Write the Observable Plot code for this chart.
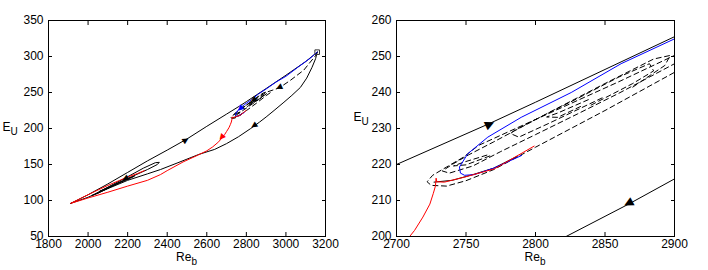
<!DOCTYPE html>
<html><head><meta charset="utf-8">
<script src="https://cdn.jsdelivr.net/npm/d3@7"></script>
<script src="https://cdn.jsdelivr.net/npm/@observablehq/plot@0.6"></script>
<style>
body{margin:0;background:#fff}
#wrap{display:flex;width:708px;height:270px}
</style>
</head><body><div id="wrap"></div>
<script>
// ---- solid black curves ----
const upperX = [1912, 1960, 2000, 2100, 2200, 2300, 2400, 2500, 2600, 2700, 2767, 2800, 2900, 3000, 3100, 3158];
const upperY = [96, 102.5, 108, 123, 139, 155, 170, 185.5, 203, 220, 231.4, 237.3, 255.5, 274, 293, 306];
const lowerX = [3158, 3150, 3132, 3105, 3073, 3030, 2990, 2940, 2900, 2867, 2822, 2760, 2700, 2640, 2560, 2450, 2366, 2300, 2200, 2100, 2000, 1912];
const lowerY = [306, 297, 285, 270, 257, 246, 236.5, 225, 216, 209, 200, 188.5, 179, 171, 164, 152, 143, 137, 128, 116.5, 104.5, 96];
const loopAX = [2020, 2100, 2200, 2280, 2340, 2360, 2350, 2300, 2220, 2130, 2050, 2020];
const loopAY = [107, 118.5, 133, 145, 152.5, 153, 150, 143, 133, 121, 110, 107];
const loopBX = [2060, 2130, 2200, 2235, 2215, 2150, 2080, 2060];
const loopBY = [113, 122, 130.5, 134, 131, 123.5, 114.5, 113];
const segX = [2727, 2740, 2755, 2770, 2787];
const segY = [215.1, 215.6, 217.2, 219, 222.3];
// ---- dashed black curves ----
const dashAX = [3158, 3149, 3090, 3023, 2967, 2930, 2900, 2860, 2820, 2780, 2759, 2748, 2736, 2726, 2722, 2725, 2736, 2750, 2770, 2800, 2850, 2900, 2930];
const dashAY = [306, 301, 281, 267, 256.5, 253, 250.3, 243, 236, 229, 225.3, 222, 219.3, 217, 215.2, 214.2, 214, 215.5, 218.6, 224.8, 235, 245.6, 251.5];
const dashBX = [2870, 2893, 2897, 2885, 2850, 2810, 2770, 2752, 2740, 2733, 2738, 2755, 2775, 2800, 2830, 2860, 2883, 2902];
const dashBY = [241.5, 247.5, 250.3, 249.3, 242.5, 234.5, 226.3, 222.7, 220, 218.2, 217.6, 219.6, 223.6, 228.3, 234, 239.8, 244.5, 248.4];
const dashCX = [2840, 2870, 2885, 2882, 2860, 2830, 2800, 2785, 2782, 2788, 2810, 2849];
const dashCY = [236.5, 242.5, 246, 248, 244.3, 238.3, 232.5, 229.5, 228.6, 227.6, 231.5, 238.7];
const dashDX = [2765, 2748, 2741, 2750, 2768];
const dashDY = [222.6, 220.6, 219.6, 219.9, 222.5];
const dashEX = [2838, 2816, 2808, 2816, 2834];
const dashEY = [238, 234.3, 233.2, 233.1, 236.4];
// ---- blue ----
const blueX = [3158, 3120, 3060, 3000, 2950, 2900, 2861.6, 2825.7, 2789.7, 2765.7, 2751.3, 2745.3, 2746, 2749, 2756, 2770, 2790];
const blueY = [306, 297, 285, 272.5, 264.5, 254.9, 248, 240, 233.1, 227.6, 223, 219.3, 217.6, 217, 217.2, 219, 222.5];
// ---- red ----
const redX = [2799, 2785, 2770.5, 2749, 2734.5, 2729, 2728.5, 2728, 2726.5, 2724, 2719, 2713, 2708, 2700, 2690, 2677, 2660, 2630, 2600, 2555, 2480, 2400, 2366, 2300, 2200, 2100, 2000, 1912, 1970, 2030, 2100, 2160, 2210, 2250, 2285];
const redY = [225.1, 222, 218.8, 216.5, 215.1, 215.2, 216.2, 214, 212, 209, 205.4, 201.7, 199.3, 195.8, 191.5, 187, 181.5, 174.5, 169, 163, 153.5, 141.5, 136, 128, 120, 111.5, 103.5, 96, 104, 112, 121, 128, 133.5, 137.5, 141.5];
// ---- start marker ----
const startX = [3158], startY = [306];
// ---- arrows: position and a point further along the curve ----
const leftArrowX = [2492, 2840, 2967, 2837, 2770, 2677, 2189];
const leftArrowY = [184.5, 203.5, 256.5, 239, 227, 187, 130];
const leftArrowToX = [2600, 2760, 2900, 2800, 2750, 2660, 2100];
const leftArrowToY = [203, 188.5, 248, 232, 222, 181.5, 117];
const leftArrowColor = ["black", "black", "black", "black", "blue", "red", "black"];
const rightArrowX = [2767, 2867];
const rightArrowY = [231.4, 209];
const rightArrowToX = [2800, 2822];
const rightArrowToY = [237.3, 200];
const rightArrowColor = ["black", "black"];
// ---- axes ----
const leftXTicks = [1800, 2000, 2200, 2400, 2600, 2800, 3000, 3200];
const leftYTicks = [50, 100, 150, 200, 250, 300, 350];
const rightXTicks = [2700, 2750, 2800, 2850, 2900];
const rightYTicks = [200, 210, 220, 230, 240, 250, 260];

function pts(xs, ys, curve) { return xs.map((x, i) => ({x, y: ys[i], curve})); }
const solidBlack = [
  ...pts(upperX, upperY, "upper"), ...pts(lowerX, lowerY, "lower"),
  ...pts(loopAX, loopAY, "loopA"), ...pts(loopBX, loopBY, "loopB"), ...pts(segX, segY, "seg")];
const dashedBlack = [
  ...pts(dashAX, dashAY, "A"), ...pts(dashBX, dashBY, "B"), ...pts(dashCX, dashCY, "C"),
  ...pts(dashDX, dashDY, "D"), ...pts(dashEX, dashEY, "E")];
const blue = pts(blueX, blueY, "blue");
const red = pts(redX, redY, "red");
const start = pts(startX, startY, "start");

const W = 354, H = 270, MT = 20, MB = 34;
const FONT = "'Liberation Sans', Arial, Helvetica, sans-serif";

function panel({xDomain, yDomain, xTicks, yTicks, ml, mr, ax, ay, atx, aty, acol, arrowSize}) {
  const kx = (W - ml - mr) / (xDomain[1] - xDomain[0]);
  const ky = (H - MT - MB) / (yDomain[1] - yDomain[0]);
  const arrows = ax.map((x, i) => ({
    x, y: ay[i], c: acol[i],
    a: Math.atan2(-(aty[i] - ay[i]) * ky, (atx[i] - x) * kx) * 180 / Math.PI
  }));
  const plot = Plot.plot({
    width: W, height: H, marginLeft: ml, marginRight: mr, marginTop: MT, marginBottom: MB,
    style: {fontFamily: FONT, fontSize: "12px", color: "black", background: "white"},
    x: {domain: xDomain, label: null},
    y: {domain: yDomain, label: null},
    marks: [
      Plot.line(solidBlack, {x: "x", y: "y", z: "curve", stroke: "black", strokeWidth: 1, clip: true}),
      Plot.line(dashedBlack, {x: "x", y: "y", z: "curve", stroke: "black", strokeWidth: 1, strokeDasharray: "5,3.5", clip: true}),
      Plot.line(blue, {x: "x", y: "y", stroke: "#0000ff", strokeWidth: 1, clip: true}),
      Plot.line(red, {x: "x", y: "y", stroke: "#ff0000", strokeWidth: 1, clip: true}),
      Plot.dot(start, {x: "x", y: "y", symbol: "square", r: 2.6, stroke: "#333", strokeWidth: 1, fill: "none", clip: true}),
      Plot.text(arrows, {x: "x", y: "y", text: () => "\u25B6", rotate: "a", fill: "c", fontSize: arrowSize, textAnchor: "middle", lineAnchor: "middle", fontFamily: "DejaVu Sans", clip: true}),
      Plot.axisX(xTicks, {anchor: "bottom", tickSize: -4, tickPadding: 7, tickFormat: d => String(d)}),
      Plot.axisX(xTicks, {anchor: "top", tickSize: -4, tickFormat: () => ""}),
      Plot.axisY(yTicks, {anchor: "left", tickSize: -4, tickPadding: 9, tickFormat: d => String(d)}),
      Plot.axisY(yTicks, {anchor: "right", tickSize: -4, tickFormat: () => ""}),
      Plot.frame({stroke: "black", strokeWidth: 1})
    ]
  });
  const svg = d3.select(plot);
  const cx = ml + (W - ml - mr) / 2;
  const xl = svg.append("text").attr("x", cx).attr("y", 261).attr("text-anchor", "middle")
    .style("font-family", FONT).style("font-size", "12px").attr("fill", "black");
  xl.append("tspan").text("Re");
  xl.append("tspan").attr("dy", 4).style("font-size", "10px").text("b");
  return plot;
}

const wrap = document.getElementById("wrap");
wrap.appendChild(panel({
  xDomain: [1800, 3200], yDomain: [50, 350], xTicks: leftXTicks, yTicks: leftYTicks,
  ml: 48, mr: 29, ax: leftArrowX, ay: leftArrowY, atx: leftArrowToX, aty: leftArrowToY, acol: leftArrowColor, arrowSize: 8
}));
wrap.appendChild(panel({
  xDomain: [2700, 2900], yDomain: [200, 260], xTicks: rightXTicks, yTicks: rightYTicks,
  ml: 42, mr: 34, ax: rightArrowX, ay: rightArrowY, atx: rightArrowToX, aty: rightArrowToY, acol: rightArrowColor, arrowSize: 12
}));

// y labels E_U
const svgs = wrap.querySelectorAll("svg");
[[svgs[0], 10, 131], [svgs[1], 7, 121]].forEach(([s, x, y]) => {
  const t = d3.select(s).append("text").attr("x", x).attr("y", y)
    .style("font-family", FONT).style("font-size", "12px").attr("fill", "black");
  t.append("tspan").text("E");
  t.append("tspan").attr("dy", 4).style("font-size", "10px").text("U");
});
</script>
</body></html>
